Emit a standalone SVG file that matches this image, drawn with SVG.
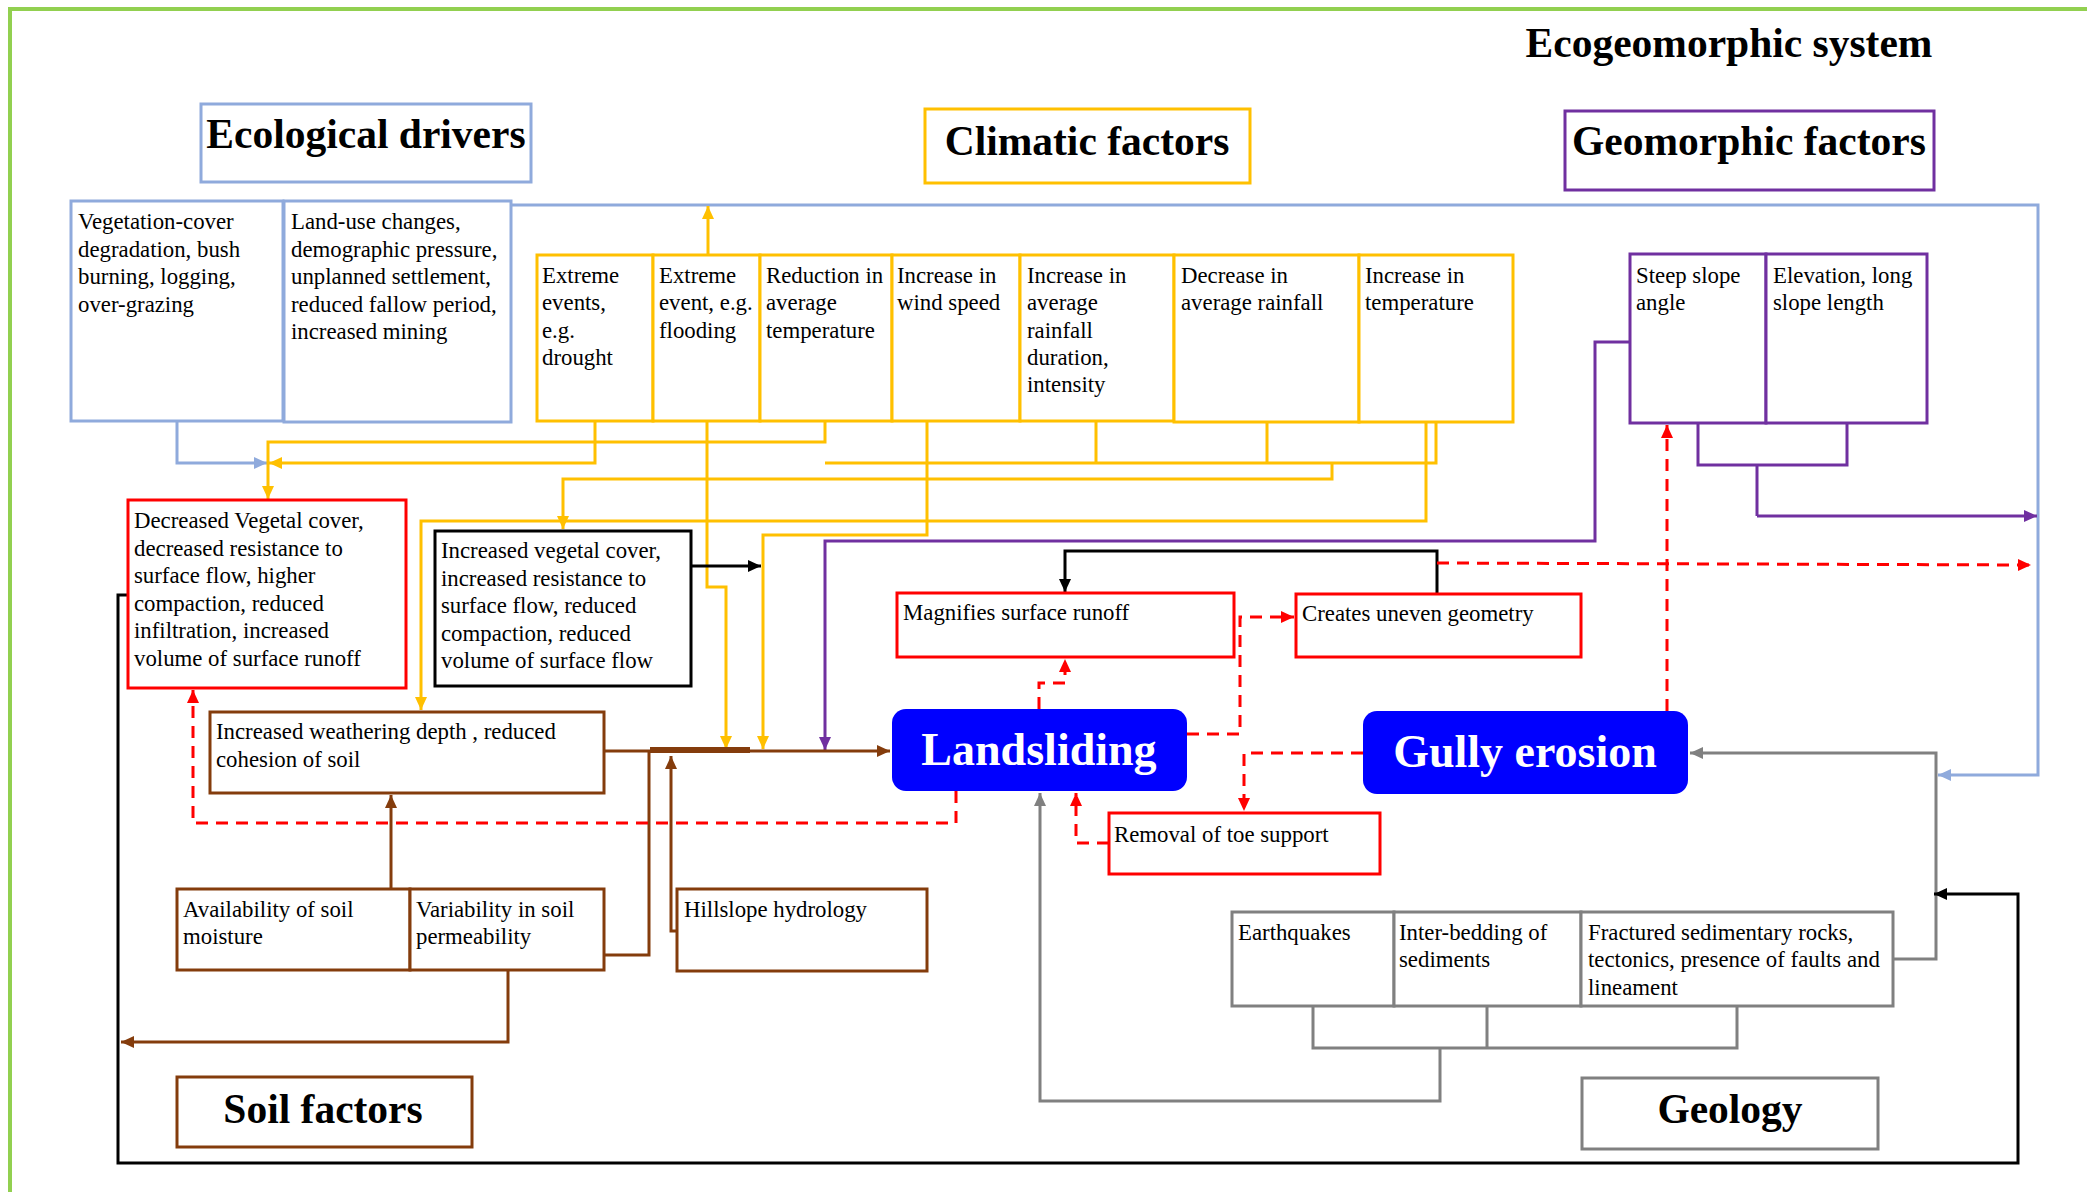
<svg xmlns="http://www.w3.org/2000/svg" width="2087" height="1192" viewBox="0 0 2087 1192">
<defs>
<style>
text{font-family:"Liberation Serif","Times New Roman",serif;fill:#000}
.t{font-size:22.8px}
.h{font-size:41.5px;font-weight:bold;text-anchor:middle}
.big{font-size:46px;font-weight:bold;fill:#fff;text-anchor:middle}
.bx{fill:#fff;stroke-width:3}
.lb{stroke:#8FAADC}.ye{stroke:#FFC000}.pu{stroke:#7030A0}.br{stroke:#843C0C}.gr{stroke:#808080}.rd{stroke:#FF0000}.bk{stroke:#000}
.c{fill:none;stroke-width:3}
.d{fill:none;stroke:#FF0000;stroke-width:3;stroke-dasharray:12 8}
</style>
<marker id="aye" markerUnits="userSpaceOnUse" markerWidth="14" markerHeight="14" refX="13" refY="7" orient="auto"><path d="M0,1 L13,7 L0,13 z" fill="#FFC000"/></marker>
<marker id="alb" markerUnits="userSpaceOnUse" markerWidth="14" markerHeight="14" refX="13" refY="7" orient="auto"><path d="M0,1 L13,7 L0,13 z" fill="#8FAADC"/></marker>
<marker id="apu" markerUnits="userSpaceOnUse" markerWidth="14" markerHeight="14" refX="13" refY="7" orient="auto"><path d="M0,1 L13,7 L0,13 z" fill="#7030A0"/></marker>
<marker id="abr" markerUnits="userSpaceOnUse" markerWidth="14" markerHeight="14" refX="13" refY="7" orient="auto"><path d="M0,1 L13,7 L0,13 z" fill="#843C0C"/></marker>
<marker id="agr" markerUnits="userSpaceOnUse" markerWidth="14" markerHeight="14" refX="13" refY="7" orient="auto"><path d="M0,1 L13,7 L0,13 z" fill="#808080"/></marker>
<marker id="ard" markerUnits="userSpaceOnUse" markerWidth="14" markerHeight="14" refX="13" refY="7" orient="auto"><path d="M0,1 L13,7 L0,13 z" fill="#FF0000"/></marker>
<marker id="abk" markerUnits="userSpaceOnUse" markerWidth="14" markerHeight="14" refX="13" refY="7" orient="auto"><path d="M0,1 L13,7 L0,13 z" fill="#000"/></marker>
</defs>
<rect width="2087" height="1192" fill="#fff"/>
<path d="M10,1192 V9 H2087" fill="none" stroke="#92D050" stroke-width="4"/>
<text class="h" x="1729" y="57">Ecogeomorphic system</text>

<g id="connectors">
<!-- light blue -->
<path class="c lb" d="M511,205 H2038 V775 H1938" marker-end="url(#alb)"/>
<path class="c lb" d="M177,421 V463 H267" marker-end="url(#alb)"/>
<!-- yellow -->
<path class="c ye" d="M595,420 V463 H269" marker-end="url(#aye)"/>
<path class="c ye" d="M825,420 V442 H268 V499" marker-end="url(#aye)"/>
<path class="c ye" d="M825,463 H1436 V422 M927,420 V463 M1096,420 V463 M1267,422 V463"/>
<path class="c ye" d="M1332,463 V479 H563 V529" marker-end="url(#aye)"/>
<path class="c ye" d="M1426,422 V521 H421 V710" marker-end="url(#aye)"/>
<path class="c ye" d="M927,463 V535 H763 V749" marker-end="url(#aye)"/>
<path class="c ye" d="M707,420 V587 H726 V749" marker-end="url(#aye)"/>
<path class="c ye" d="M708,255 V206" marker-end="url(#aye)"/>
<!-- purple -->
<path class="c pu" d="M1630,342 H1595 V541 H825 V750" marker-end="url(#apu)"/>
<path class="c pu" d="M1698,423 V465 H1847 V423 M1757,465 V516"/>
<path class="c pu" d="M1757,516 H2037" marker-end="url(#apu)"/>
<!-- gray -->
<path class="c gr" d="M1313,1006 V1048 H1737 V1006 M1487,1006 V1048"/>
<path class="c gr" d="M1440,1048 V1101 H1040 V793" marker-end="url(#agr)"/>
<path class="c gr" d="M1893,959 H1936 V753 H1690" marker-end="url(#agr)"/>
<!-- black -->
<path class="c bk" d="M1437,594 V551 H1065 V592" marker-end="url(#abk)" stroke-width="2.5"/>
<path class="c bk" d="M691,566 H761" marker-end="url(#abk)" stroke-width="4"/>
<path class="c bk" d="M128,595 H118 V1163 H2018 V894 H1934" marker-end="url(#abk)"/>
<!-- brown -->
<path class="c br" d="M604,751 H890" marker-end="url(#abr)"/>
<path class="br" d="M650,750 H750" stroke-width="6"/>
<path class="c br" d="M604,955 H649 V751"/>
<path class="c br" d="M677,931 H671 V756" marker-end="url(#abr)"/>
<path class="c br" d="M391,889 V795" marker-end="url(#abr)"/>
<path class="c br" d="M508,970 V1042 H121" marker-end="url(#abr)"/>
<!-- red dashed -->
<path class="d" d="M1039,709 V683 H1065 V659" marker-end="url(#ard)"/>
<path class="d" d="M1187,734 H1240 V617 H1294" marker-end="url(#ard)"/>
<path class="d" d="M1363,753 H1244 V811" marker-end="url(#ard)"/>
<path class="d" d="M1109,843 H1076 V793" marker-end="url(#ard)"/>
<path class="d" d="M956,791 V823 H193 V690" marker-end="url(#ard)"/>
<path class="d" d="M1437,563 L2031,565" marker-end="url(#ard)"/>
<path class="d" d="M1667,711 V425" marker-end="url(#ard)"/>
</g>

<g id="ecological-drivers">
<rect class="bx lb" x="201" y="104" width="330" height="78"/>
<text class="h" x="366" y="148">Ecological drivers</text>
</g>
<g id="climatic-factors">
<rect class="bx ye" x="925" y="109" width="325" height="74"/>
<text class="h" x="1087" y="155">Climatic factors</text>
</g>
<g id="geomorphic-factors">
<rect class="bx pu" x="1565" y="111" width="369" height="79"/>
<text class="h" x="1749" y="155">Geomorphic factors</text>
</g>
<g id="soil-factors">
<rect class="bx br" x="177" y="1077" width="295" height="70"/>
<text class="h" x="323" y="1123">Soil factors</text>
</g>
<g id="geology">
<rect class="bx gr" x="1582" y="1078" width="296" height="71"/>
<text class="h" x="1730" y="1123">Geology</text>
</g>

<g id="vegetation-cover">
<rect class="bx lb" x="71" y="201" width="212" height="220"/>
<text class="t" x="78" y="229">Vegetation-cover</text>
<text class="t" x="78" y="257">degradation, bush</text>
<text class="t" x="78" y="284">burning, logging,</text>
<text class="t" x="78" y="312">over-grazing</text>
</g>
<g id="land-use">
<rect class="bx lb" x="284" y="201" width="227" height="221"/>
<text class="t" x="291" y="229">Land-use changes,</text>
<text class="t" x="291" y="257">demographic pressure,</text>
<text class="t" x="291" y="284">unplanned settlement,</text>
<text class="t" x="291" y="312">reduced fallow period,</text>
<text class="t" x="291" y="339">increased mining</text>
</g>

<g id="extreme-drought">
<rect class="bx ye" x="537" y="255" width="116" height="166"/>
<text class="t" x="542" y="283">Extreme</text>
<text class="t" x="542" y="310">events,</text>
<text class="t" x="542" y="338">e.g.</text>
<text class="t" x="542" y="365">drought</text>
</g>
<g id="extreme-flooding">
<rect class="bx ye" x="653" y="255" width="107" height="166"/>
<text class="t" x="659" y="283">Extreme</text>
<text class="t" x="659" y="310">event, e.g.</text>
<text class="t" x="659" y="338">flooding</text>
</g>
<g id="reduction-temp">
<rect class="bx ye" x="760" y="255" width="132" height="166"/>
<text class="t" x="766" y="283">Reduction in</text>
<text class="t" x="766" y="310">average</text>
<text class="t" x="766" y="338">temperature</text>
</g>
<g id="wind-speed">
<rect class="bx ye" x="892" y="255" width="128" height="166"/>
<text class="t" x="897" y="283">Increase in</text>
<text class="t" x="897" y="310">wind speed</text>
</g>
<g id="increase-rainfall">
<rect class="bx ye" x="1020" y="255" width="154" height="166"/>
<text class="t" x="1027" y="283">Increase in</text>
<text class="t" x="1027" y="310">average</text>
<text class="t" x="1027" y="338">rainfall</text>
<text class="t" x="1027" y="365">duration,</text>
<text class="t" x="1027" y="392">intensity</text>
</g>
<g id="decrease-rainfall">
<rect class="bx ye" x="1174" y="255" width="185" height="167"/>
<text class="t" x="1181" y="283">Decrease in</text>
<text class="t" x="1181" y="310">average rainfall</text>
</g>
<g id="increase-temp">
<rect class="bx ye" x="1359" y="255" width="154" height="167"/>
<text class="t" x="1365" y="283">Increase in</text>
<text class="t" x="1365" y="310">temperature</text>
</g>

<g id="steep-slope">
<rect class="bx pu" x="1630" y="254" width="136" height="169"/>
<text class="t" x="1636" y="283">Steep slope</text>
<text class="t" x="1636" y="310">angle</text>
</g>
<g id="elevation">
<rect class="bx pu" x="1766" y="254" width="161" height="169"/>
<text class="t" x="1773" y="283">Elevation, long</text>
<text class="t" x="1773" y="310">slope length</text>
</g>

<g id="decreased-vegetal">
<rect class="bx rd" x="128" y="500" width="278" height="188"/>
<text class="t" x="134" y="528">Decreased Vegetal cover,</text>
<text class="t" x="134" y="556">decreased resistance to</text>
<text class="t" x="134" y="583">surface flow, higher</text>
<text class="t" x="134" y="611">compaction,  reduced</text>
<text class="t" x="134" y="638">infiltration, increased</text>
<text class="t" x="134" y="666">volume of surface runoff</text>
</g>
<g id="increased-vegetal">
<rect class="bx bk" x="435" y="531" width="256" height="155" stroke-width="3.5"/>
<text class="t" x="441" y="558">Increased  vegetal cover,</text>
<text class="t" x="441" y="586">increased resistance to</text>
<text class="t" x="441" y="613">surface flow, reduced</text>
<text class="t" x="441" y="641">compaction, reduced</text>
<text class="t" x="441" y="668">volume of surface flow</text>
</g>
<g id="weathering">
<rect class="bx br" x="210" y="712" width="394" height="81"/>
<text class="t" x="216" y="739">Increased  weathering depth , reduced</text>
<text class="t" x="216" y="767">cohesion of soil</text>
</g>
<g id="soil-moisture">
<rect class="bx br" x="177" y="889" width="233" height="81"/>
<text class="t" x="183" y="917">Availability  of soil</text>
<text class="t" x="183" y="944">moisture</text>
</g>
<g id="soil-permeability">
<rect class="bx br" x="410" y="889" width="194" height="81"/>
<text class="t" x="416" y="917">Variability  in soil</text>
<text class="t" x="416" y="944">permeability</text>
</g>
<g id="hillslope">
<rect class="bx br" x="677" y="889" width="250" height="82"/>
<text class="t" x="684" y="917">Hillslope hydrology</text>
</g>

<g id="magnifies">
<rect class="bx rd" x="897" y="593" width="337" height="64"/>
<text class="t" x="903" y="620">Magnifies surface runoff</text>
</g>
<g id="uneven-geometry">
<rect class="bx rd" x="1296" y="594" width="285" height="63"/>
<text class="t" x="1302" y="621">Creates uneven geometry</text>
</g>
<g id="toe-support">
<rect class="bx rd" x="1109" y="813" width="271" height="61"/>
<text class="t" x="1114" y="842">Removal of toe support</text>
</g>

<g id="landsliding">
<rect x="892" y="709" width="295" height="82" rx="14" fill="#0000FF"/>
<text class="big" x="1039" y="765">Landsliding</text>
</g>
<g id="gully-erosion">
<rect x="1363" y="711" width="325" height="83" rx="14" fill="#0000FF"/>
<text class="big" x="1525" y="767">Gully erosion</text>
</g>

<g id="earthquakes">
<rect class="bx gr" x="1232" y="912" width="162" height="94"/>
<text class="t" x="1238" y="940">Earthquakes</text>
</g>
<g id="inter-bedding">
<rect class="bx gr" x="1394" y="912" width="187" height="94"/>
<text class="t" x="1399" y="940">Inter-bedding  of</text>
<text class="t" x="1399" y="967">sediments</text>
</g>
<g id="fractured">
<rect class="bx gr" x="1581" y="912" width="312" height="94"/>
<text class="t" x="1588" y="940">Fractured sedimentary  rocks,</text>
<text class="t" x="1588" y="967">tectonics, presence of faults and</text>
<text class="t" x="1588" y="995">lineament</text>
</g>
</svg>
